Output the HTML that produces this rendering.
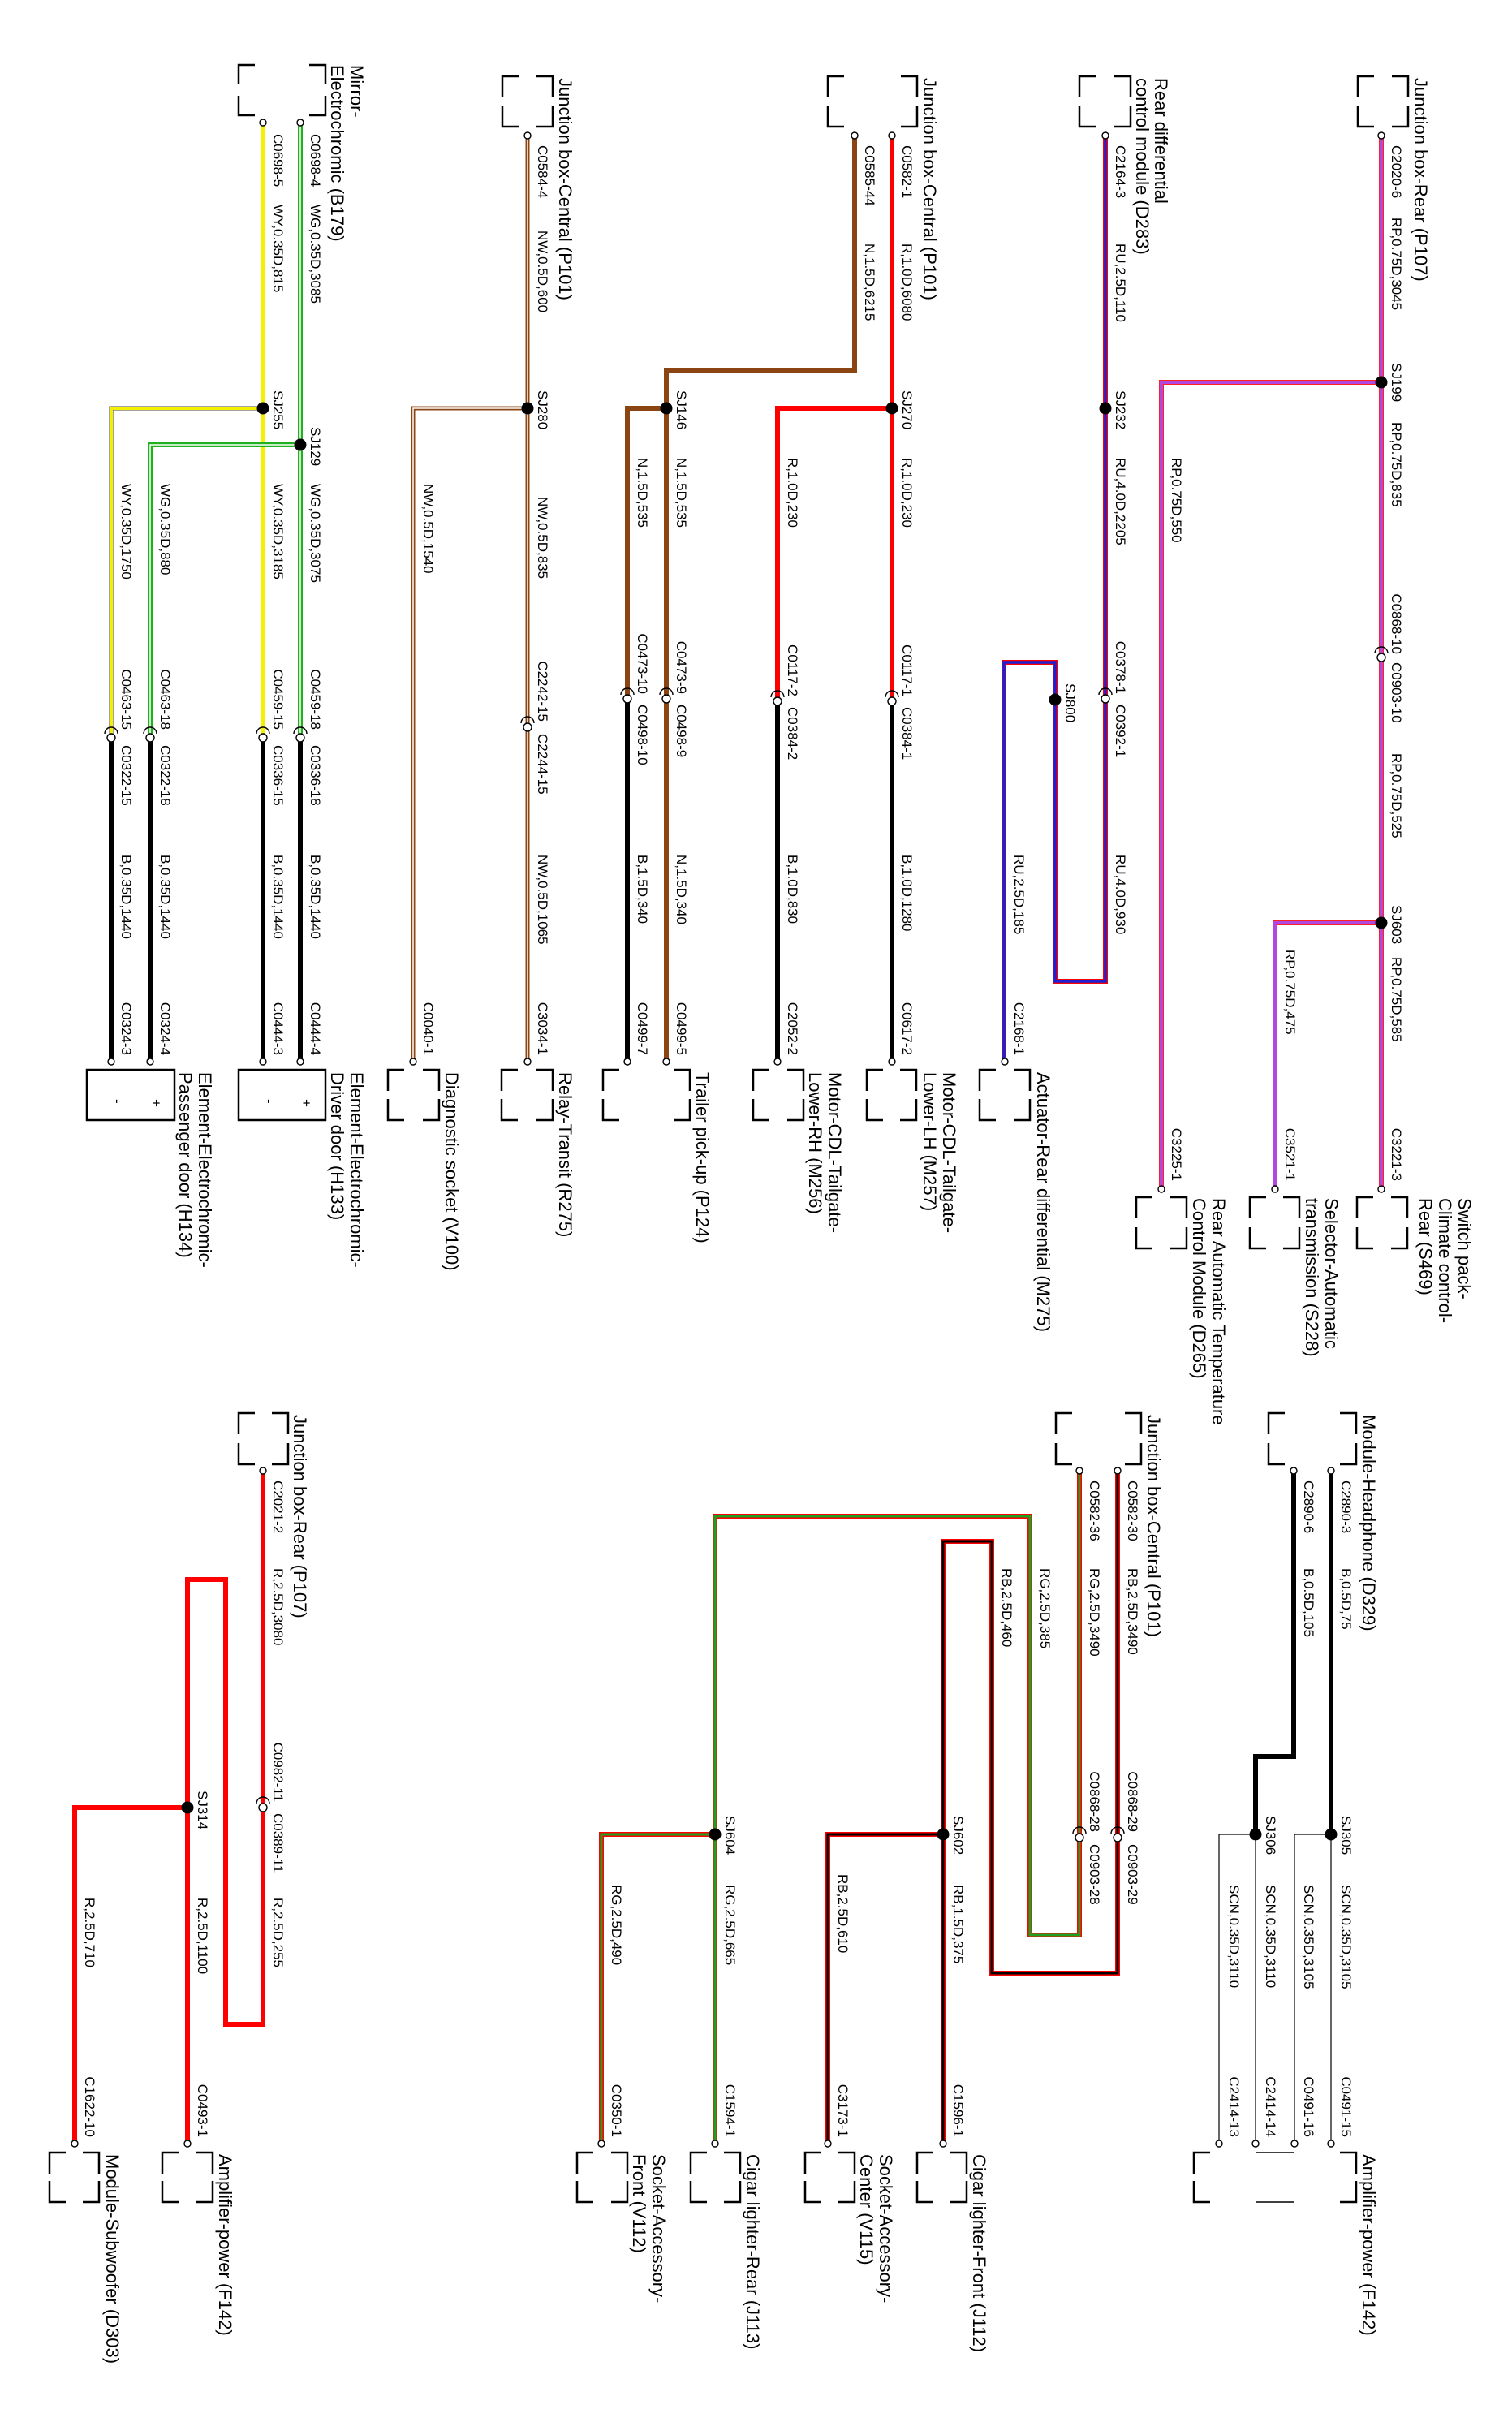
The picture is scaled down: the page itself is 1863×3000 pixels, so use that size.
<!DOCTYPE html>
<html><head><meta charset="utf-8"><style>
html,body{margin:0;padding:0;background:#fff}
svg{display:block}
.s{font-family:"Liberation Sans",Arial,sans-serif;font-size:17px;fill:#000}
.t{font-family:"Liberation Sans",Arial,sans-serif;font-size:22px;fill:#000}
</style></head><body>
<svg width="1863" height="3000" viewBox="0 0 1863 3000" xmlns="http://www.w3.org/2000/svg">
<rect width="1863" height="3000" fill="#fff"/>
<defs>
<path id="wy1" d="M324 151V909"/>
<path id="wy2" d="M324 503H137V909"/>
<path id="wg1" d="M370 151V909"/>
<path id="wg2" d="M370 548H185V909"/>
<path id="nw" d="M650 167V1308M650 503H509V1308"/>
<path id="ru" d="M1362 167V1209H1300V816H1237V1308"/>
<path id="rp" d="M1702 167V1465M1702 471H1431V1465M1702 1137H1571V1465"/>
<path id="rg" d="M1330 1812V2384H1269V1868H881V2641M881 2260H741V2641"/>
<path id="rb" d="M1377 1812V2431H1222V1899H1162V2641M1162 2260H1020V2641"/>
</defs>
<g fill="none" stroke-linejoin="miter" stroke-linecap="butt">
<use href="#wy2" stroke="#444" stroke-width="5"/><use href="#wy2" stroke="#f4f000" stroke-width="4"/>
<use href="#wy1" stroke="#444" stroke-width="5"/><use href="#wy1" stroke="#f4f000" stroke-width="4"/>
<use href="#wg2" stroke="#20b020" stroke-width="6"/><use href="#wg2" stroke="#fff" stroke-width="1.5"/>
<use href="#wg1" stroke="#20b020" stroke-width="6"/><use href="#wg1" stroke="#fff" stroke-width="1.5"/>
<path d="M137 909V1308M185 909V1308M324 909V1308M370 909V1308" stroke="#000" stroke-width="6"/>
<use href="#nw" stroke="#8b4513" stroke-width="5"/><use href="#nw" stroke="#fff" stroke-width="1.5"/>
<path d="M1053 167V456H821V1308M821 503H773V861" stroke="#8b4513" stroke-width="6"/>
<path d="M773 861V1308" stroke="#000" stroke-width="6"/>
<path d="M1099 167V864M1099 503H958V864" stroke="#ff0000" stroke-width="6"/>
<path d="M1099 864V1308M958 864V1308" stroke="#000" stroke-width="6"/>
<use href="#ru" stroke="#ff0000" stroke-width="6"/><use href="#ru" stroke="#2020d0" stroke-width="3.5"/>
<use href="#rp" stroke="#ff2020" stroke-width="6"/><use href="#rp" stroke="#b048e0" stroke-width="4"/>
<path d="M324 1812V2494H278V1946H231V2641M231 2227H92V2641" stroke="#ff0000" stroke-width="6"/>
<use href="#rg" stroke="#ff0000" stroke-width="6"/><use href="#rg" stroke="#20a020" stroke-width="3"/>
<use href="#rb" stroke="#ff0000" stroke-width="6"/><use href="#rb" stroke="#000" stroke-width="3"/>
<path d="M1640 1812V2260M1594 1812V2164H1547V2260" stroke="#000" stroke-width="6"/>
<path d="M1640 2260V2641M1640 2260H1595V2641M1547 2260V2641M1547 2260H1502V2641" stroke="#000" stroke-width="1.2"/>
</g>
<g fill="#000">
<circle cx="324" cy="503" r="7.5"/><circle cx="370" cy="548" r="7.5"/><circle cx="650" cy="503" r="7.5"/>
<circle cx="821" cy="503" r="7.5"/><circle cx="1099" cy="503" r="7.5"/><circle cx="1362" cy="503" r="7.5"/>
<circle cx="1300" cy="862" r="7.5"/><circle cx="1702" cy="471" r="7.5"/><circle cx="1702" cy="1137" r="7.5"/>
<circle cx="231" cy="2227" r="7.5"/><circle cx="881" cy="2260" r="7.5"/><circle cx="1162" cy="2260" r="7.5"/>
<circle cx="1640" cy="2260" r="7.5"/><circle cx="1547" cy="2260" r="7.5"/>
</g>
<g fill="#fff" stroke="#000" stroke-width="1.4">
<circle cx="137" cy="909" r="5"/><circle cx="185" cy="909" r="5"/><circle cx="324" cy="909" r="5"/><circle cx="370" cy="909" r="5"/>
<circle cx="650" cy="896" r="5"/><circle cx="773" cy="861" r="5"/><circle cx="821" cy="861" r="5"/>
<circle cx="958" cy="864" r="5"/><circle cx="1099" cy="864" r="5"/><circle cx="1362" cy="861" r="5"/>
<circle cx="1702" cy="810" r="5"/><circle cx="324" cy="2227" r="5"/><circle cx="1330" cy="2264" r="5"/><circle cx="1377" cy="2264" r="5"/>
<path fill="none" d="M129 904A8 8 0 0 1 145 904M177 904A8 8 0 0 1 193 904M316 904A8 8 0 0 1 332 904M362 904A8 8 0 0 1 378 904M642 891A8 8 0 0 1 658 891M765 856A8 8 0 0 1 781 856M813 856A8 8 0 0 1 829 856M950 859A8 8 0 0 1 966 859M1091 859A8 8 0 0 1 1107 859M1354 856A8 8 0 0 1 1370 856M1694 805A8 8 0 0 1 1710 805M316 2222A8 8 0 0 1 332 2222M1322 2259A8 8 0 0 1 1338 2259M1369 2259A8 8 0 0 1 1385 2259"/>
<circle cx="324" cy="151" r="4"/><circle cx="370" cy="151" r="4"/><circle cx="650" cy="167" r="4"/><circle cx="1053" cy="167" r="4"/><circle cx="1099" cy="167" r="4"/><circle cx="1362" cy="167" r="4"/><circle cx="1702" cy="167" r="4"/>
<circle cx="324" cy="1812" r="4"/><circle cx="1330" cy="1812" r="4"/><circle cx="1377" cy="1812" r="4"/><circle cx="1594" cy="1812" r="4"/><circle cx="1640" cy="1812" r="4"/>
<circle cx="137" cy="1308" r="4"/><circle cx="185" cy="1308" r="4"/><circle cx="324" cy="1308" r="4"/><circle cx="370" cy="1308" r="4"/><circle cx="509" cy="1308" r="4"/><circle cx="650" cy="1308" r="4"/><circle cx="773" cy="1308" r="4"/><circle cx="821" cy="1308" r="4"/><circle cx="958" cy="1308" r="4"/><circle cx="1099" cy="1308" r="4"/><circle cx="1238" cy="1308" r="4"/>
<circle cx="1431" cy="1465" r="4"/><circle cx="1571" cy="1465" r="4"/><circle cx="1702" cy="1465" r="4"/>
<circle cx="92" cy="2641" r="4"/><circle cx="231" cy="2641" r="4"/><circle cx="741" cy="2641" r="4"/><circle cx="881" cy="2641" r="4"/><circle cx="1020" cy="2641" r="4"/><circle cx="1162" cy="2641" r="4"/><circle cx="1502" cy="2641" r="4"/><circle cx="1547" cy="2641" r="4"/><circle cx="1595" cy="2641" r="4"/><circle cx="1640" cy="2641" r="4"/>
</g>
<g fill="none" stroke="#000" stroke-width="2.5">
<path d="M314 80H294V104M381 80H401V104M294 118V142H314M401 118V142H381"/>
<path d="M639 94H619V120M661 94H681V120M619 130V156H639M681 130V156H661"/>
<path d="M1040 94H1020V120M1110 94H1130V120M1020 130V156H1040M1130 130V156H1110"/>
<path d="M1350 94H1330V120M1373 94H1393V120M1330 130V156H1350M1393 130V156H1373"/>
<path d="M1693 94H1673V120M1715 94H1735V120M1673 130V156H1693M1735 130V156H1715"/>
<path d="M498 1318H478V1344M521 1318H541V1344M478 1354V1380H498M541 1354V1380H521"/>
<path d="M638 1318H618V1344M661 1318H681V1344M618 1354V1380H638M681 1354V1380H661"/>
<path d="M763 1318H743V1344M830 1318H850V1344M743 1354V1380H763M850 1354V1380H830"/>
<path d="M948 1318H928V1344M970 1318H990V1344M928 1354V1380H948M990 1354V1380H970"/>
<path d="M1088 1318H1068V1344M1109 1318H1129V1344M1068 1354V1380H1088M1129 1354V1380H1109"/>
<path d="M1227 1318H1207V1344M1249 1318H1269V1344M1207 1354V1380H1227M1269 1354V1380H1249"/>
<path d="M1420 1475H1400V1501M1442 1475H1462V1501M1400 1512V1538H1420M1462 1512V1538H1442"/>
<path d="M1560 1475H1540V1501M1581 1475H1601V1501M1540 1512V1538H1560M1601 1512V1538H1581"/>
<path d="M1692 1475H1672V1501M1714 1475H1734V1501M1672 1512V1538H1692M1734 1512V1538H1714"/>
<rect x="107" y="1318" width="108" height="62"/><rect x="294" y="1318" width="107" height="62"/>
<path d="M314 1741H294V1767M335 1741H355V1767M294 1778V1804H314M355 1778V1804H335"/>
<path d="M1321 1741H1301V1767M1386 1741H1406V1767M1301 1778V1804H1321M1406 1778V1804H1386"/>
<path d="M1583 1741H1563V1767M1651 1741H1671V1767M1563 1778V1804H1583M1671 1778V1804H1651"/>
<path d="M81 2652H61V2678M102 2652H122V2678M61 2687V2713H81M122 2687V2713H102"/>
<path d="M220 2652H200V2678M242 2652H262V2678M200 2687V2713H220M262 2687V2713H242"/>
<path d="M731 2652H711V2678M753 2652H773V2678M711 2687V2713H731M773 2687V2713H753"/>
<path d="M871 2652H851V2678M892 2652H912V2678M851 2687V2713H871M912 2687V2713H892"/>
<path d="M1012 2652H992V2678M1033 2652H1053V2678M992 2687V2713H1012M1053 2687V2713H1033"/>
<path d="M1150 2652H1130V2678M1171 2652H1191V2678M1130 2687V2713H1150M1191 2687V2713H1171"/>
<path d="M1491 2652H1471V2678M1651 2652H1671V2678M1471 2687V2713H1491M1671 2687V2713H1651"/>
</g>
<path d="M1547 2652H1595M1547 2713H1595" stroke="#000" stroke-width="1.5"/>
<g class="s">
<text transform="translate(326,1354) rotate(90)">-</text><text transform="translate(372,1354) rotate(90)">+</text>
<text transform="translate(139,1354) rotate(90)">-</text><text transform="translate(187,1354) rotate(90)">+</text>
</g>
<g class="t">
<text transform="translate(432,80) rotate(90)">Mirror-</text>
<text transform="translate(408,80) rotate(90)">Electrochromic (B179)</text>
<text transform="translate(689,96) rotate(90)">Junction box-Central (P101)</text>
<text transform="translate(1138,96) rotate(90)">Junction box-Central (P101)</text>
<text transform="translate(1423,96) rotate(90)">Rear differential</text>
<text transform="translate(1400,96) rotate(90)">control module (D283)</text>
<text transform="translate(1743,96) rotate(90)">Junction box-Rear (P107)</text>
<text transform="translate(245,1321) rotate(90)">Element-Electrochromic-</text>
<text transform="translate(221,1321) rotate(90)">Passenger door (H134)</text>
<text transform="translate(432,1321) rotate(90)">Element-Electrochromic-</text>
<text transform="translate(408,1321) rotate(90)">Driver door (H133)</text>
<text transform="translate(549,1321) rotate(90)">Diagnostic socket (V100)</text>
<text transform="translate(689,1321) rotate(90)">Relay-Transit (R275)</text>
<text transform="translate(858,1321) rotate(90)">Trailer pick-up (P124)</text>
<text transform="translate(1021,1321) rotate(90)">Motor-CDL-Tailgate-</text>
<text transform="translate(997,1321) rotate(90)">Lower-RH (M256)</text>
<text transform="translate(1162,1321) rotate(90)">Motor-CDL-Tailgate-</text>
<text transform="translate(1138,1321) rotate(90)">Lower-LH (M257)</text>
<text transform="translate(1278,1321) rotate(90)">Actuator-Rear differential (M275)</text>
<text transform="translate(1494,1476) rotate(90)">Rear Automatic Temperature</text>
<text transform="translate(1470,1476) rotate(90)">Control Module (D265)</text>
<text transform="translate(1633,1476) rotate(90)">Selector-Automatic</text>
<text transform="translate(1609,1476) rotate(90)">transmission (S228)</text>
<text transform="translate(1797,1476) rotate(90)">Switch pack-</text>
<text transform="translate(1773,1476) rotate(90)">Climate control-</text>
<text transform="translate(1749,1476) rotate(90)">Rear (S469)</text>
<text transform="translate(362,1743) rotate(90)">Junction box-Rear (P107)</text>
<text transform="translate(1414,1743) rotate(90)">Junction box-Central (P101)</text>
<text transform="translate(1679,1743) rotate(90)">Module-Headphone (D329)</text>
<text transform="translate(131,2654) rotate(90)">Module-Subwoofer (D303)</text>
<text transform="translate(270,2654) rotate(90)">Amplifier-power (F142)</text>
<text transform="translate(804,2654) rotate(90)">Socket-Accessory-</text>
<text transform="translate(780,2654) rotate(90)">Front (V112)</text>
<text transform="translate(920,2654) rotate(90)">Cigar lighter-Rear (J113)</text>
<text transform="translate(1084,2654) rotate(90)">Socket-Accessory-</text>
<text transform="translate(1060,2654) rotate(90)">Center (V115)</text>
<text transform="translate(1199,2654) rotate(90)">Cigar lighter-Front (J112)</text>
<text transform="translate(1679,2654) rotate(90)">Amplifier-power (F142)</text>
</g>
<g class="s">
<text transform="translate(337,165) rotate(90)">C0698-5</text>
<text transform="translate(337,252) rotate(90)">WY,0.35D,815</text>
<text transform="translate(337,481) rotate(90)">SJ255</text>
<text transform="translate(337,596) rotate(90)">WY,0.35D,3185</text>
<text transform="translate(337,899) rotate(90)" text-anchor="end">C0459-15</text>
<text transform="translate(337,918) rotate(90)">C0336-15</text>
<text transform="translate(337,1053) rotate(90)">B,0.35D,1440</text>
<text transform="translate(337,1300) rotate(90)" text-anchor="end">C0444-3</text>
<text transform="translate(383,165) rotate(90)">C0698-4</text>
<text transform="translate(383,252) rotate(90)">WG,0.35D,3085</text>
<text transform="translate(383,526) rotate(90)">SJ129</text>
<text transform="translate(383,596) rotate(90)">WG,0.35D,3075</text>
<text transform="translate(383,899) rotate(90)" text-anchor="end">C0459-18</text>
<text transform="translate(383,918) rotate(90)">C0336-18</text>
<text transform="translate(383,1053) rotate(90)">B,0.35D,1440</text>
<text transform="translate(383,1300) rotate(90)" text-anchor="end">C0444-4</text>
<text transform="translate(150,596) rotate(90)">WY,0.35D,1750</text>
<text transform="translate(150,899) rotate(90)" text-anchor="end">C0463-15</text>
<text transform="translate(150,918) rotate(90)">C0322-15</text>
<text transform="translate(150,1053) rotate(90)">B,0.35D,1440</text>
<text transform="translate(150,1300) rotate(90)" text-anchor="end">C0324-3</text>
<text transform="translate(198,596) rotate(90)">WG,0.35D,880</text>
<text transform="translate(198,899) rotate(90)" text-anchor="end">C0463-18</text>
<text transform="translate(198,918) rotate(90)">C0322-18</text>
<text transform="translate(198,1053) rotate(90)">B,0.35D,1440</text>
<text transform="translate(198,1300) rotate(90)" text-anchor="end">C0324-4</text>
<text transform="translate(663,179) rotate(90)">C0584-4</text>
<text transform="translate(663,284) rotate(90)">NW,0.5D,600</text>
<text transform="translate(663,481) rotate(90)">SJ280</text>
<text transform="translate(663,612) rotate(90)">NW,0.5D,835</text>
<text transform="translate(663,889) rotate(90)" text-anchor="end">C2242-15</text>
<text transform="translate(663,904) rotate(90)">C2244-15</text>
<text transform="translate(663,1053) rotate(90)">NW,0.5D,1065</text>
<text transform="translate(663,1300) rotate(90)" text-anchor="end">C3034-1</text>
<text transform="translate(522,596) rotate(90)">NW,0.5D,1540</text>
<text transform="translate(522,1300) rotate(90)" text-anchor="end">C0040-1</text>
<text transform="translate(834,481) rotate(90)">SJ146</text>
<text transform="translate(834,564) rotate(90)">N,1.5D,535</text>
<text transform="translate(834,855) rotate(90)" text-anchor="end">C0473-9</text>
<text transform="translate(834,868) rotate(90)">C0498-9</text>
<text transform="translate(834,1053) rotate(90)">N,1.5D,340</text>
<text transform="translate(834,1300) rotate(90)" text-anchor="end">C0499-5</text>
<text transform="translate(786,564) rotate(90)">N,1.5D,535</text>
<text transform="translate(786,855) rotate(90)" text-anchor="end">C0473-10</text>
<text transform="translate(786,868) rotate(90)">C0498-10</text>
<text transform="translate(786,1053) rotate(90)">B,1.5D,340</text>
<text transform="translate(786,1300) rotate(90)" text-anchor="end">C0499-7</text>
<text transform="translate(1066,179) rotate(90)">C0585-44</text>
<text transform="translate(1066,300) rotate(90)">N,1.5D,6215</text>
<text transform="translate(1112,179) rotate(90)">C0582-1</text>
<text transform="translate(1112,300) rotate(90)">R,1.0D,6080</text>
<text transform="translate(1112,481) rotate(90)">SJ270</text>
<text transform="translate(1112,564) rotate(90)">R,1.0D,230</text>
<text transform="translate(1112,858) rotate(90)" text-anchor="end">C0117-1</text>
<text transform="translate(1112,871) rotate(90)">C0384-1</text>
<text transform="translate(1112,1053) rotate(90)">B,1.0D,1280</text>
<text transform="translate(1112,1300) rotate(90)" text-anchor="end">C0617-2</text>
<text transform="translate(971,564) rotate(90)">R,1.0D,230</text>
<text transform="translate(971,858) rotate(90)" text-anchor="end">C0117-2</text>
<text transform="translate(971,871) rotate(90)">C0384-2</text>
<text transform="translate(971,1053) rotate(90)">B,1.0D,830</text>
<text transform="translate(971,1300) rotate(90)" text-anchor="end">C2052-2</text>
<text transform="translate(1375,179) rotate(90)">C2164-3</text>
<text transform="translate(1375,300) rotate(90)">RU,2.5D,110</text>
<text transform="translate(1375,481) rotate(90)">SJ232</text>
<text transform="translate(1375,564) rotate(90)">RU,4.0D,2205</text>
<text transform="translate(1375,855) rotate(90)" text-anchor="end">C0378-1</text>
<text transform="translate(1375,868) rotate(90)">C0392-1</text>
<text transform="translate(1375,1053) rotate(90)">RU,4.0D,930</text>
<text transform="translate(1313,842) rotate(90)">SJ800</text>
<text transform="translate(1250,1053) rotate(90)">RU,2.5D,185</text>
<text transform="translate(1250,1300) rotate(90)" text-anchor="end">C2168-1</text>
<text transform="translate(1715,179) rotate(90)">C2020-6</text>
<text transform="translate(1715,268) rotate(90)">RP,0.75D,3045</text>
<text transform="translate(1715,447) rotate(90)">SJ199</text>
<text transform="translate(1715,520) rotate(90)">RP,0.75D,835</text>
<text transform="translate(1715,806) rotate(90)" text-anchor="end">C0868-10</text>
<text transform="translate(1715,816) rotate(90)">C0903-10</text>
<text transform="translate(1715,928) rotate(90)">RP,0.75D,525</text>
<text transform="translate(1715,1115) rotate(90)">SJ603</text>
<text transform="translate(1715,1179) rotate(90)">RP,0.75D,585</text>
<text transform="translate(1715,1455) rotate(90)" text-anchor="end">C3221-3</text>
<text transform="translate(1444,564) rotate(90)">RP,0.75D,550</text>
<text transform="translate(1444,1455) rotate(90)" text-anchor="end">C3225-1</text>
<text transform="translate(1584,1170) rotate(90)">RP,0.75D,475</text>
<text transform="translate(1584,1455) rotate(90)" text-anchor="end">C3521-1</text>
<text transform="translate(337,1824) rotate(90)">C2021-2</text>
<text transform="translate(337,1932) rotate(90)">R,2.5D,3080</text>
<text transform="translate(337,2220) rotate(90)" text-anchor="end">C0982-11</text>
<text transform="translate(337,2234) rotate(90)">C0389-11</text>
<text transform="translate(337,2338) rotate(90)">R,2.5D,255</text>
<text transform="translate(244,2206) rotate(90)">SJ314</text>
<text transform="translate(244,2338) rotate(90)">R,2.5D,1100</text>
<text transform="translate(244,2633) rotate(90)" text-anchor="end">C0493-1</text>
<text transform="translate(105,2338) rotate(90)">R,2.5D,710</text>
<text transform="translate(105,2633) rotate(90)" text-anchor="end">C1622-10</text>
<text transform="translate(1390,1824) rotate(90)">C0582-30</text>
<text transform="translate(1390,1932) rotate(90)">RB,2.5D,3490</text>
<text transform="translate(1390,2257) rotate(90)" text-anchor="end">C0868-29</text>
<text transform="translate(1390,2272) rotate(90)">C0903-29</text>
<text transform="translate(1343,1824) rotate(90)">C0582-36</text>
<text transform="translate(1343,1932) rotate(90)">RG,2.5D,3490</text>
<text transform="translate(1343,2257) rotate(90)" text-anchor="end">C0868-28</text>
<text transform="translate(1343,2272) rotate(90)">C0903-28</text>
<text transform="translate(1282,1932) rotate(90)">RG,2.5D,385</text>
<text transform="translate(1235,1932) rotate(90)">RB,2.5D,460</text>
<text transform="translate(1175,2237) rotate(90)">SJ602</text>
<text transform="translate(1175,2322) rotate(90)">RB,1.5D,375</text>
<text transform="translate(1175,2633) rotate(90)" text-anchor="end">C1596-1</text>
<text transform="translate(1033,2309) rotate(90)">RB,2.5D,610</text>
<text transform="translate(1033,2633) rotate(90)" text-anchor="end">C3173-1</text>
<text transform="translate(894,2237) rotate(90)">SJ604</text>
<text transform="translate(894,2322) rotate(90)">RG,2.5D,665</text>
<text transform="translate(894,2633) rotate(90)" text-anchor="end">C1594-1</text>
<text transform="translate(754,2322) rotate(90)">RG,2.5D,490</text>
<text transform="translate(754,2633) rotate(90)" text-anchor="end">C0350-1</text>
<text transform="translate(1653,1824) rotate(90)">C2890-3</text>
<text transform="translate(1653,1932) rotate(90)">B,0.5D,75</text>
<text transform="translate(1653,2237) rotate(90)">SJ305</text>
<text transform="translate(1653,2322) rotate(90)">SCN,0.35D,3105</text>
<text transform="translate(1653,2633) rotate(90)" text-anchor="end">C0491-15</text>
<text transform="translate(1607,1824) rotate(90)">C2890-6</text>
<text transform="translate(1607,1932) rotate(90)">B,0.5D,105</text>
<text transform="translate(1607,2322) rotate(90)">SCN,0.35D,3105</text>
<text transform="translate(1607,2633) rotate(90)" text-anchor="end">C0491-16</text>
<text transform="translate(1560,2237) rotate(90)">SJ306</text>
<text transform="translate(1560,2322) rotate(90)">SCN,0.35D,3110</text>
<text transform="translate(1560,2633) rotate(90)" text-anchor="end">C2414-14</text>
<text transform="translate(1515,2322) rotate(90)">SCN,0.35D,3110</text>
<text transform="translate(1515,2633) rotate(90)" text-anchor="end">C2414-13</text>
</g>
</svg>
</body></html>
